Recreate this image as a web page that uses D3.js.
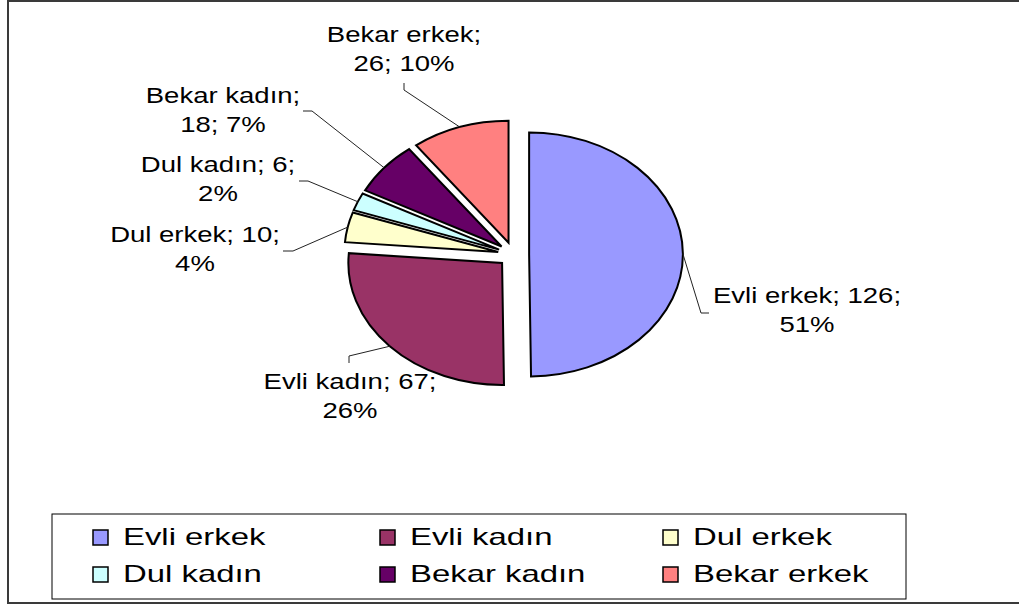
<!DOCTYPE html>
<meta charset="utf-8">
<script src="https://d3js.org/d3.v7.min.js"></script>
<style>
  body { margin: 0; background: #fff; }
  text { font-family: "Liberation Sans", Arial, sans-serif; fill: #000; }
</style>
<div id="chart"></div>
<script>
// data
var categories = ["Evli erkek", "Evli kadın", "Dul erkek", "Dul kadın", "Bekar kadın", "Bekar erkek"];
var counts = [126, 67, 10, 6, 18, 26];
var percentLabels = ["51%", "26%", "4%", "2%", "7%", "10%"];
var colors = ["#9999FF", "#993366", "#FFFFCC", "#CCFFFF", "#660066", "#FF8080"];

// layout for the data labels (Excel placed them by hand)
var labelLayout = [
  {x: 807, y: 303, split: 2, elbow: [[709, 313], [701, 313]]},
  {x: 350, y: 389, split: 2, elbow: [[349, 363], [349, 356]]},
  {x: 195, y: 242, split: 2, elbow: [[283, 251], [293, 251]]},
  {x: 218, y: 172, split: 2, elbow: [[299, 181], [308, 181]]},
  {x: 223, y: 103, split: 1, elbow: [[303, 111], [312, 111]]},
  {x: 404, y: 42,  split: 1, elbow: [[404, 83], [404, 90]]}
];

var W = 1019, H = 607;
var cx = 513.5, cy = 254.5, r = 122, sx = 1.26, explode = 12.4;
var fontSize = 21.5, labelStretch = 1.28;
var legendFont = 23, legendStretch = 1.43;

var svg = d3.select("#chart").append("svg")
  .attr("width", W).attr("height", H);

// outer chart frame
svg.append("rect")
  .attr("x", 8).attr("y", 1)
  .attr("width", 1030).attr("height", 602)
  .attr("fill", "none").attr("stroke", "#3a3a3a").attr("stroke-width", 2);

var data = categories.map(function(c, i) {
  return {name: c, value: counts[i], pct: percentLabels[i], color: colors[i], layout: labelLayout[i]};
});

var pie = d3.pie().sort(null).value(function(d) { return d.value; })
  .startAngle(0).endAngle(2 * Math.PI);
var arcs = pie(data);

var arc = d3.arc().innerRadius(0).outerRadius(r);
var offsetArc = d3.arc().innerRadius(explode).outerRadius(explode);
var edgeArc = d3.arc().innerRadius(r + explode).outerRadius(r + explode);

var pieG = svg.append("g")
  .attr("transform", "translate(" + cx + "," + cy + ") scale(" + sx + ",1)");

pieG.selectAll("path.slice")
  .data(arcs)
  .enter().append("path")
    .attr("class", "slice")
    .attr("d", arc)
    .attr("transform", function(d) {
      var o = offsetArc.centroid(d);
      return "translate(" + o[0] + "," + o[1] + ")";
    })
    .attr("fill", function(d) { return d.data.color; })
    .attr("stroke", "#000")
    .attr("stroke-width", 2)
    .attr("stroke-linejoin", "miter")
    .attr("vector-effect", "non-scaling-stroke");

// leader lines
var line = d3.line();
svg.selectAll("path.leader")
  .data(arcs)
  .enter().append("path")
    .attr("class", "leader")
    .attr("d", function(d) {
      var e = edgeArc.centroid(d);
      var end = [cx + e[0] * sx, cy + e[1]];
      return line(d.data.layout.elbow.concat([end]));
    })
    .attr("fill", "none")
    .attr("stroke", "#222")
    .attr("stroke-width", 1);

// data labels
arcs.forEach(function(d) {
  var parts = [d.data.name, String(d.data.value), d.data.pct];
  var L = d.data.layout;
  var line1 = parts.slice(0, L.split).join("; ") + ";";
  var line2 = parts.slice(L.split).join("; ");
  [line1, line2].forEach(function(t, k) {
    svg.append("text")
      .attr("transform", "translate(" + L.x + "," + (L.y + k * 29) + ") scale(" + labelStretch + ",1)")
      .attr("text-anchor", "middle")
      .style("font-size", fontSize + "px")
      .text(t);
  });
});

// legend
svg.append("rect")
  .attr("x", 52).attr("y", 514).attr("width", 854).attr("height", 85)
  .attr("fill", "#fff").attr("stroke", "#000").attr("stroke-width", 1);

var legendCols = [93, 380, 663], legendRows = [545, 582];
data.forEach(function(d, i) {
  var lx = legendCols[i % 3], ly = legendRows[Math.floor(i / 3)];
  svg.append("rect")
    .attr("x", lx).attr("y", ly - 15)
    .attr("width", 15).attr("height", 15)
    .attr("fill", d.color).attr("stroke", "#000").attr("stroke-width", 1.5);
  svg.append("text")
    .attr("transform", "translate(" + (lx + 30) + "," + ly + ") scale(" + legendStretch + ",1)")
    .style("font-size", legendFont + "px")
    .text(d.name);
});
</script>
